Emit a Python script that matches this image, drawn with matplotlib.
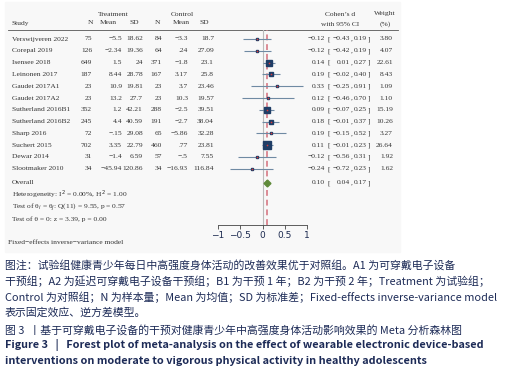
import numpy as np
import matplotlib.pyplot as plt
from matplotlib.patches import Rectangle

# forest plot data
studies = ["Verswijveren 2022", "Corepal 2019", "Isensee 2018", "Leinonen 2017",
           "Gaudet 2017A1", "Gaudet 2017A2", "Sutherland 2016B1", "Sutherland 2016B2",
           "Sharp 2016", "Suchert 2015", "Dewar 2014", "Slootmaker 2010"]
t_n = [75, 126, 649, 187, 23, 23, 352, 245, 72, 702, 31, 34]
t_mean = [-5.5, -2.34, 1.5, 8.44, 10.9, 13.2, 1.2, 4.4, -0.15, 3.35, -1.4, -45.94]
t_sd = [18.62, 19.36, 24, 28.78, 19.81, 27.7, 42.21, 40.59, 29.08, 22.79, 6.59, 120.86]
c_n = [84, 64, 371, 167, 23, 23, 288, 191, 65, 460, 57, 34]
c_mean = [-3.3, 0.24, -1.8, 3.17, 3.7, 10.3, -2.5, -2.7, -5.86, 0.77, -0.5, -16.93]
c_sd = [18.7, 27.09, 23.1, 25.8, 23.46, 19.57, 39.51, 38.04, 32.28, 23.81, 7.55, 116.84]
d = [-0.12, -0.12, 0.14, 0.19, 0.33, 0.12, 0.09, 0.18, 0.19, 0.11, -0.12, -0.24]
lo = [-0.43, -0.42, 0.01, -0.02, -0.25, -0.46, -0.07, -0.01, -0.15, -0.01, -0.56, -0.72]
hi = [0.19, 0.19, 0.27, 0.40, 0.91, 0.70, 0.25, 0.37, 0.52, 0.23, 0.31, 0.23]
weight = [3.80, 4.07, 22.61, 8.43, 1.09, 1.10, 15.19, 10.26, 3.27, 26.64, 1.92, 1.62]
overall = (0.10, 0.04, 0.17)
xticks = [-1, -0.5, 0, 0.5, 1]
xticklabels = ["\u22121", "\u22120.5", "0", "0.5", "1"]

caption_lines = [
    "图注：试验组健康青少年每日中高强度身体活动的改善效果优于对照组。A1 为可穿戴电子设备",
    "干预组；A2 为延迟可穿戴电子设备干预组；B1 为干预 1 年；B2 为干预 2 年；Treatment 为试验组；",
    "Control 为对照组；N 为样本量；Mean 为均值；SD 为标准差；Fixed-effects inverse-variance model",
    "表示固定效应、逆方差模型。",
]
title_cn = "图 3  丨基于可穿戴电子设备的干预对健康青少年中高强度身体活动影响效果的 Meta 分析森林图"
title_en = ["Figure 3   |   Forest plot of meta-analysis on the effect of wearable electronic device-based",
            "interventions on moderate to vigorous physical activity in healthy adolescents"]


def fmt(v):
    s = f"{v:g}"
    if s.startswith("0."):
        s = s[1:]
    elif s.startswith("-0."):
        s = "-" + s[2:]
    return s.replace("-", "\u2212")


def fmt2(v):
    return f"{v:.2f}".replace("-", "\u2212")


fig = plt.figure(figsize=(5.12, 3.80), dpi=100)
bg = fig.add_axes([0, 0, 1, 1])
bg.set_xlim(0, 512)
bg.set_ylim(380, 0)
bg.axis("off")
bg.add_patch(Rectangle((5, 2), 395, 250, color="#f8f8f8", zorder=0))

serif = "Liberation Serif"
tc = "#333333"
fs = 5.4

row_y0, row_dy = 39, 11.8
def ry(i):
    return row_y0 + row_dy * i


def ci_text(y, est, l, h):
    bg.text(325, y, fmt2(est), ha="right", **kw)
    bg.text(327.5, y, "[", ha="left", **kw)
    bg.text(350, y, fmt2(l), ha="right", **kw)
    bg.text(350.3, y, ",", ha="left", **kw)
    bg.text(367, y, fmt2(h), ha="right", **kw)
    bg.text(367.5, y, "]", ha="left", **kw)


# header
kw = dict(family=serif, fontsize=fs, color=tc, va="center")
bg.text(113, 14, "Treatment", ha="center", **kw)
bg.text(182, 14, "Control", ha="center", **kw)
bg.text(12, 23, "Study", ha="left", **kw)
for x, lab in [(90, "N"), (108, "Mean"), (134, "SD"), (157, "N"), (181, "Mean"), (204, "SD")]:
    bg.text(x, 23, lab, ha="center", **kw)
bg.text(340, 14, "Cohen’s d", ha="center", **kw)
bg.text(340, 24, "with 95% CI", ha="center", **kw)
bg.text(385, 14, "Weight", ha="center", **kw)
bg.text(385, 24, "(%)", ha="center", **kw)
bg.plot([8, 398], [29.5, 29.5], color="#555555", lw=0.6)

# rows
for i, s in enumerate(studies):
    y = ry(i)
    bg.text(12, y, s, ha="left", **kw)
    bg.text(92, y, str(t_n[i]), ha="right", **kw)
    bg.text(122, y, fmt(t_mean[i]), ha="right", **kw)
    bg.text(143, y, fmt(t_sd[i]), ha="right", **kw)
    bg.text(162, y, str(c_n[i]), ha="right", **kw)
    bg.text(188, y, fmt(c_mean[i]), ha="right", **kw)
    bg.text(214, y, fmt(c_sd[i]), ha="right", **kw)
    ci_text(y, d[i], lo[i], hi[i])
    bg.text(393, y, f"{weight[i]:.2f}", ha="right", **kw)

oy = ry(12.2)
bg.text(12, oy, "Overall", ha="left", **kw)
ci_text(oy, *overall)
bg.text(12, oy + 12, "Heterogeneity: I$^2$ = 0.00%, H$^2$ = 1.00", ha="left", **kw)
bg.text(12, oy + 24, "Test of θ$_i$ = θ$_j$: Q(11) = 9.55, p = 0.57", ha="left", **kw)
bg.text(12, oy + 36, "Test of θ = 0: z = 3.39, p = 0.00", ha="left", **kw)
bg.text(8, 243, "Fixed−effects inverse−variance model", ha="left", **kw)

# forest axes
top_px, bot_px = 30, 225
left_px, right_px = 218, 307
ax = fig.add_axes([left_px / 512, 1 - bot_px / 380, (right_px - left_px) / 512, (bot_px - top_px) / 380])
ax.patch.set_alpha(0)
ax.set_xlim(-1, 1)
ax.set_ylim((bot_px - row_y0) / row_dy, (top_px - row_y0) / row_dy)
for sp in ["top", "right", "left"]:
    ax.spines[sp].set_visible(False)
ax.spines["bottom"].set_color("#444444")
ax.spines["bottom"].set_linewidth(0.6)
ax.set_yticks([])
ax.set_xticks(xticks)
ax.set_xticklabels(xticklabels)
ax.tick_params(axis="x", length=3, width=0.6, color="#444444", labelsize=6.5,
               labelcolor="#1c2a50", pad=1)

ax.axvline(0, color="#bbbbbb", lw=0.8, zorder=1)
ax.axvline(overall[0], color="#dc8c96", lw=1.4, ls=(0, (3, 2)), zorder=1)

rows = np.arange(len(studies))
ax.hlines(rows, lo, hi, color="#6f8aa3", lw=0.8, zorder=2)
wmax = max(weight)
for i in rows:
    ms = max(1.6, 5.2 * np.sqrt(weight[i] / wmax))
    ax.plot(d[i], i, marker="s", ms=ms, color="#1f3d66", mec="#1f3d66", zorder=3)
    ax.plot(d[i], i, marker="o", ms=1.2, color="#d63b3b", mec="none", zorder=4)
ax.plot(overall[0], 12.2, marker="D", ms=3.5, color="#5f8a3a", mec="#5f8a3a", zorder=3)

# caption
cap_c = "#1d2b57"
cjk = ["Noto Sans CJK SC", "DejaVu Sans"]
cfs = 7.85
cy = [265, 281, 297, 313]
for y, line in zip(cy, caption_lines):
    bg.text(5, y, line, ha="left", va="center", fontsize=cfs, color=cap_c, family=cjk)
bg.text(5, 330, title_cn, ha="left", va="center", fontsize=cfs, color=cap_c, family=cjk)
bg.text(5, 345, title_en[0], ha="left", va="center", fontsize=cfs, color=cap_c,
        family=cjk, fontweight="bold")
bg.text(5, 361, title_en[1], ha="left", va="center", fontsize=cfs, color=cap_c,
        family=cjk, fontweight="bold")

fig.savefig("out.png", dpi=100)
